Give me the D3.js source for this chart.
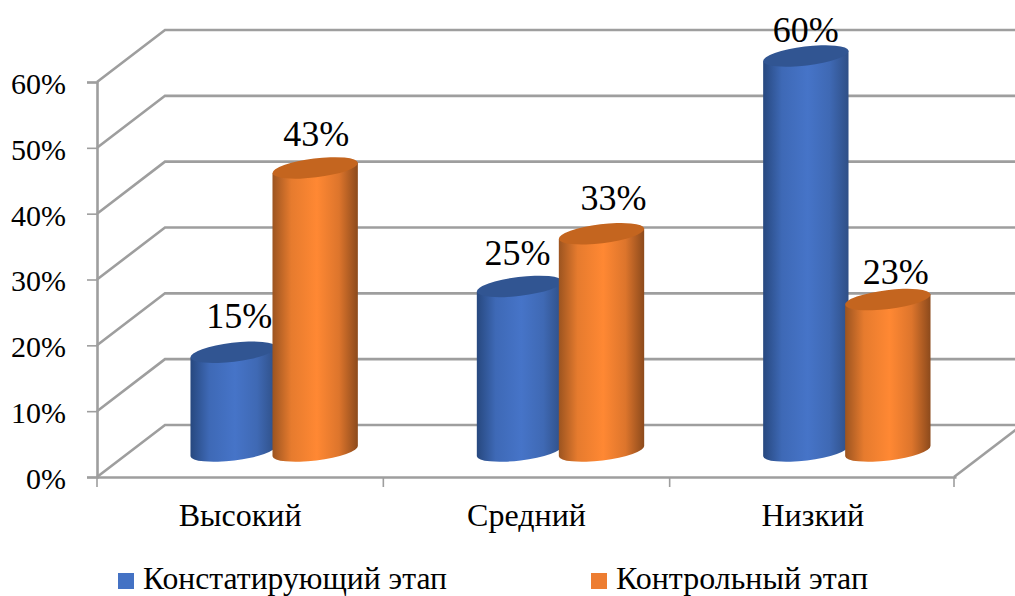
<!DOCTYPE html>
<html>
<head>
<meta charset="utf-8">
<script src="https://cdn.jsdelivr.net/npm/d3@7"></script>
<style>
  html, body { margin: 0; padding: 0; background: #fff; overflow: hidden; }
  text { font-family: "Liberation Serif", serif; fill: #000; }
</style>
</head>
<body>
<div id="chart"></div>
<script>
const categories = ["Высокий", "Средний", "Низкий"];
const seriesNames = ["Констатирующий этап", "Контрольный этап"];
const stage1 = [15, 25, 60];
const stage2 = [43, 33, 23];
const yTicks = [0, 10, 20, 30, 40, 50, 60];

const width = 1015, height = 596;
const left = 97, right = 954, floorY = 477, topY = 82;
const depthX = 68, depthY = 52; // сдвиг задней стенки

const svg = d3.select("#chart").append("svg")
  .attr("width", width)
  .attr("height", height);

const x = d3.scaleBand().domain(categories).range([left, right + 2]);
const y = d3.scaleLinear().domain([0, 60]).range([floorY, topY]);
const inner = d3.scaleBand().domain(seriesNames).range([-82, 82]);

const lightColors = ["#4674c8", "#ff8833"];
const darkLeft = ["#27487f", "#9c5420"];
const darkRight = ["#2f4f86", "#8c4a1c"];
const capColors = ["#315592", "#c4651f"];
const legendColors = ["#4472c4", "#ed7d31"];
const gridColor = "#9e9e9e";

// градиенты цилиндров
const defs = svg.append("defs");
seriesNames.forEach((name, i) => {
  const g = defs.append("linearGradient").attr("id", "cyl" + i);
  g.append("stop").attr("offset", "0%").attr("stop-color", darkLeft[i]);
  g.append("stop").attr("offset", "22%").attr("stop-color", d3.interpolateRgb(darkLeft[i], lightColors[i])(0.75));
  g.append("stop").attr("offset", "52%").attr("stop-color", lightColors[i]);
  g.append("stop").attr("offset", "78%").attr("stop-color", d3.interpolateRgb(lightColors[i], darkRight[i])(0.3));
  g.append("stop").attr("offset", "100%").attr("stop-color", darkRight[i]);
});

// сетка: задняя стенка и левая стенка
const grid = svg.append("g")
  .attr("stroke", gridColor)
  .attr("stroke-width", 2.6)
  .attr("fill", "none");

grid.selectAll("path.wall")
  .data(yTicks)
  .enter().append("path")
  .attr("class", "wall")
  .attr("d", d => `M${left},${y(d)}L${left + depthX},${y(d) - depthY}L${width},${y(d) - depthY}`);

// правый край пола
grid.append("line")
  .attr("x1", right).attr("y1", floorY)
  .attr("x2", right + depthX).attr("y2", floorY - depthY);

// ось Y
const yAxis = svg.append("g")
  .attr("transform", `translate(${left},0)`)
  .call(d3.axisLeft(y).tickValues(yTicks).tickSize(10).tickPadding(21).tickFormat(d => d + "%"));
yAxis.select("path").attr("stroke", gridColor).attr("stroke-width", 2.6);
yAxis.selectAll("line").attr("stroke", gridColor).attr("stroke-width", 1.6);
yAxis.selectAll("text")
  .attr("font-family", "Liberation Serif")
  .attr("font-size", 30)
  .attr("dy", "0.38em");

// ось X
const xAxis = svg.append("g")
  .attr("transform", `translate(0,${floorY})`)
  .call(d3.axisBottom(x).tickSize(0).tickPadding(26));
xAxis.select("path").attr("stroke", gridColor).attr("stroke-width", 2.6);
xAxis.selectAll("text")
  .attr("font-family", "Liberation Serif")
  .attr("font-size", 32);

// деления между категориями
svg.selectAll("line.cat-tick")
  .data([...categories.map(d => x(d)), x.range()[1] - 2])
  .enter().append("line")
  .attr("class", "cat-tick")
  .attr("x1", d => d).attr("x2", d => d)
  .attr("y1", floorY).attr("y2", floorY + 10)
  .attr("stroke", gridColor)
  .attr("stroke-width", 1.6);

// цилиндры
const rx = 43, ry = 9.5, tilt = -7;
const tiltRad = tilt * Math.PI / 180;
const ex = rx * Math.cos(tiltRad), ey = rx * Math.sin(tiltRad);
const yBar = v => y(v) - depthY / 2;
const barX = (c, i) => x(c) + x.bandwidth() / 2 + depthX / 2 + inner(seriesNames[i]) + inner.bandwidth() / 2;

function cylinder(parent, cx, value, i) {
  const yt = yBar(value), yb = yBar(0);
  const g = parent.append("g");
  g.append("path")
    .attr("fill", `url(#cyl${i})`)
    .attr("d", `M${cx - ex},${yt - ey}L${cx + ex},${yt + ey}L${cx + ex},${yb + ey}` +
      `A${rx},${ry} ${tilt} 0 1 ${cx - ex},${yb - ey}Z`);
  g.append("ellipse")
    .attr("fill", capColors[i])
    .attr("transform", `translate(${cx},${yt}) rotate(${tilt})`)
    .attr("rx", rx)
    .attr("ry", ry);
}

const bars = svg.append("g");
[stage1, stage2].forEach((values, i) => {
  categories.forEach((c, j) => {
    cylinder(bars, barX(c, i), values[j], i);
  });
});

// подписи значений, сдвиг подобран вручную для каждой подписи
const labelNudge = [[[6, -24], [1, -22]], [[-2, -21], [12, -24]], [[0, -14], [8, -16]]];
[stage1, stage2].forEach((values, i) => {
  categories.forEach((c, j) => {
    const n = labelNudge[j][i];
    svg.append("text")
      .attr("x", barX(c, i) + n[0])
      .attr("y", yBar(values[j]) + n[1])
      .attr("text-anchor", "middle")
      .attr("font-size", 36)
      .text(values[j] + "%");
  });
});

// легенда
const legendX = [118, 591];
const legendW = [304, 252];
seriesNames.forEach((name, i) => {
  svg.append("rect")
    .attr("x", legendX[i]).attr("y", 573)
    .attr("width", 16).attr("height", 16)
    .attr("fill", legendColors[i]);
  svg.append("text")
    .attr("x", legendX[i] + 25)
    .attr("y", 589)
    .attr("font-size", 32)
    .attr("textLength", legendW[i])
    .attr("lengthAdjust", "spacingAndGlyphs")
    .text(name);
});
</script>
</body>
</html>
